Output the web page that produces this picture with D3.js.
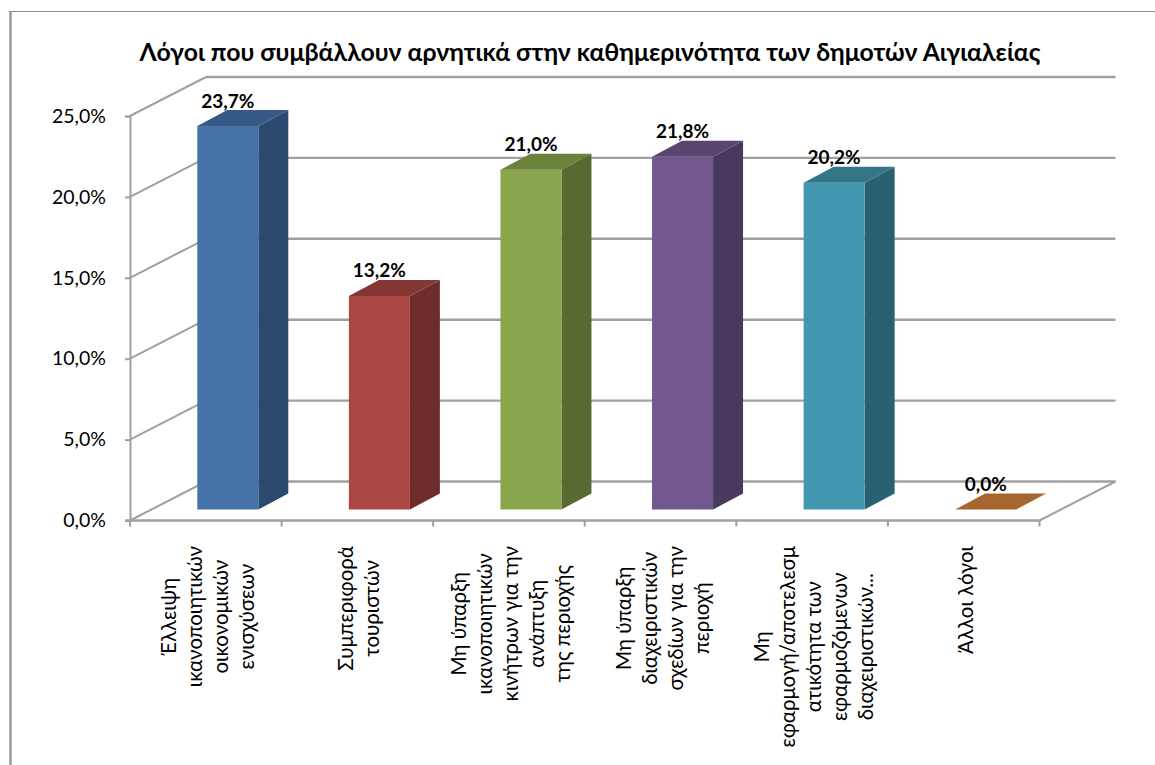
<!DOCTYPE html>
<html><head><meta charset="utf-8">
<script src="https://cdn.jsdelivr.net/npm/d3@7/dist/d3.min.js"></script>
<style>html,body{margin:0;padding:0;background:#fff}svg{display:block}text{font-family:Lato,"Open Sans",sans-serif;fill:#000}</style>
</head><body><svg width="1155" height="765"></svg>
<script>
const titleText = "Λόγοι που συμβάλλουν αρνητικά στην καθημερινότητα των δημοτών Αιγιαλείας";
const categories = [
  ["Έλλειψη","ικανοποιητικών","οικονομικών","ενισχύσεων"],
  ["Συμπεριφορά","τουριστών"],
  ["Μη ύπαρξη","ικανοποιητικών","κινήτρων για την","ανάπτυξη","της περιοχής"],
  ["Μη ύπαρξη","διαχειριστικών","σχεδίων για την","περιοχή"],
  ["Μη","εφαρμογή/αποτελεσμ","ατικότητα των","εφαρμοζόμενων","διαχειριστικών..."],
  ["Άλλοι λόγοι"]
];
const values = [23.7,13.2,21.0,21.8,20.2,0.0];
const yTicks = [0,5,10,15,20,25];
const front = ["#4672a8","#aa4643","#89a54e","#71588f","#4198af","#a8662e"];
const side  = ["#2c4a6e","#6f2c2a","#586a32","#49395d","#2a6170","#6e4220"];
const top_  = ["#365a85","#843634","#6b813c","#59456f","#327788","#a8662e"];

const svg = d3.select("svg");
const x = d3.scaleBand().domain(d3.range(categories.length)).range([130,1039.5]);
const y = d3.scaleLinear().domain([0,25]).range([520.5,116]);
const wall = {dx:76,dy:-39}, bar = {dx:30,dy:-16,shift:22,base:-11,w:61};
const grey = "#a0a0a0";
const fmt = v => d3.format(".1f")(v).replace(".",",")+"%";
const line=(a,b,c,d,w=2)=>svg.append("line").attr("x1",a).attr("y1",b).attr("x2",c).attr("y2",d).attr("stroke",grey).attr("stroke-width",w);

// outer frame
svg.append("path").attr("d","M10.5,765V11.5").attr("fill","none").attr("stroke","#9a9a9a").attr("stroke-width",2.5);
svg.append("path").attr("d","M9,11.5H1155").attr("fill","none").attr("stroke","#8c8c8c").attr("stroke-width",1);

// walls
yTicks.forEach(t=>{
  line(x.range()[0],y(t),x.range()[0]+wall.dx,y(t)+wall.dy,2);
  line(x.range()[0]+wall.dx,y(t)+wall.dy,x.range()[1]+wall.dx,y(t)+wall.dy,2.4);
});
line(x.range()[1],y(0),x.range()[1]+wall.dx,y(0)+wall.dy,2);

// axes
const axisL = d3.axisLeft(y).tickValues(yTicks).tickFormat(fmt).tickSize(5).tickPadding(19);
const gL = svg.append("g").attr("transform","translate(130,0)").call(axisL);
gL.selectAll("path,line").attr("stroke",grey).attr("stroke-width",2);
gL.selectAll("text").attr("font-size",19.5);
line(130,y(0),130,y(0)+6,2);
line(125,y(0),x.range()[1],y(0),2.4);
x.domain().concat([categories.length]).forEach(i=>{
  const px = i<categories.length? x(i): x.range()[1];
  line(px,y(0),px,y(0)+6,2);
});

// bars
values.forEach((v,i)=>{
  const cx = x(i)+x.bandwidth()/2+bar.shift, l=cx-bar.w/2, r=cx+bar.w/2;
  const b=y(0)+bar.base, t=y(v)+bar.base;
  svg.append("path").attr("fill",side[i]).attr("d",`M${r},${b}L${r+bar.dx},${b+bar.dy}L${r+bar.dx},${t+bar.dy}L${r},${t}Z`);
  svg.append("rect").attr("fill",front[i]).attr("x",l).attr("y",t).attr("width",bar.w).attr("height",b-t);
  svg.append("path").attr("fill",top_[i]).attr("d",`M${l},${t}L${l+bar.dx},${t+bar.dy}L${r+bar.dx},${t+bar.dy}L${r},${t}Z`);
  svg.append("text").attr("x",cx).attr("y",t+bar.dy-2.5).attr("text-anchor","middle")
    .attr("font-size",19).attr("font-weight",700).text(fmt(v));
});

// category labels
categories.forEach((lines,i)=>{
  const lh=26, cx=x(i)+x.bandwidth()/2+1;
  const g=svg.append("g");
  const tmp=lines.map(s=>g.append("text").attr("font-size",20.5).attr("text-anchor","middle")
    .attr("dominant-baseline","central").text(s));
  const longest=d3.max(tmp,t=>t.node().getComputedTextLength());
  const yc=546+longest/2;
  tmp.forEach((t,j)=>{
    const px=cx+(j-(lines.length-1)/2)*lh;
    t.attr("transform",`translate(${px},${yc}) rotate(-90)`);
  });
});

// title
svg.append("text").attr("x",590).attr("y",61).attr("text-anchor","middle")
  .attr("font-size",24.8).attr("font-weight",700).text(titleText);
</script></body></html>
